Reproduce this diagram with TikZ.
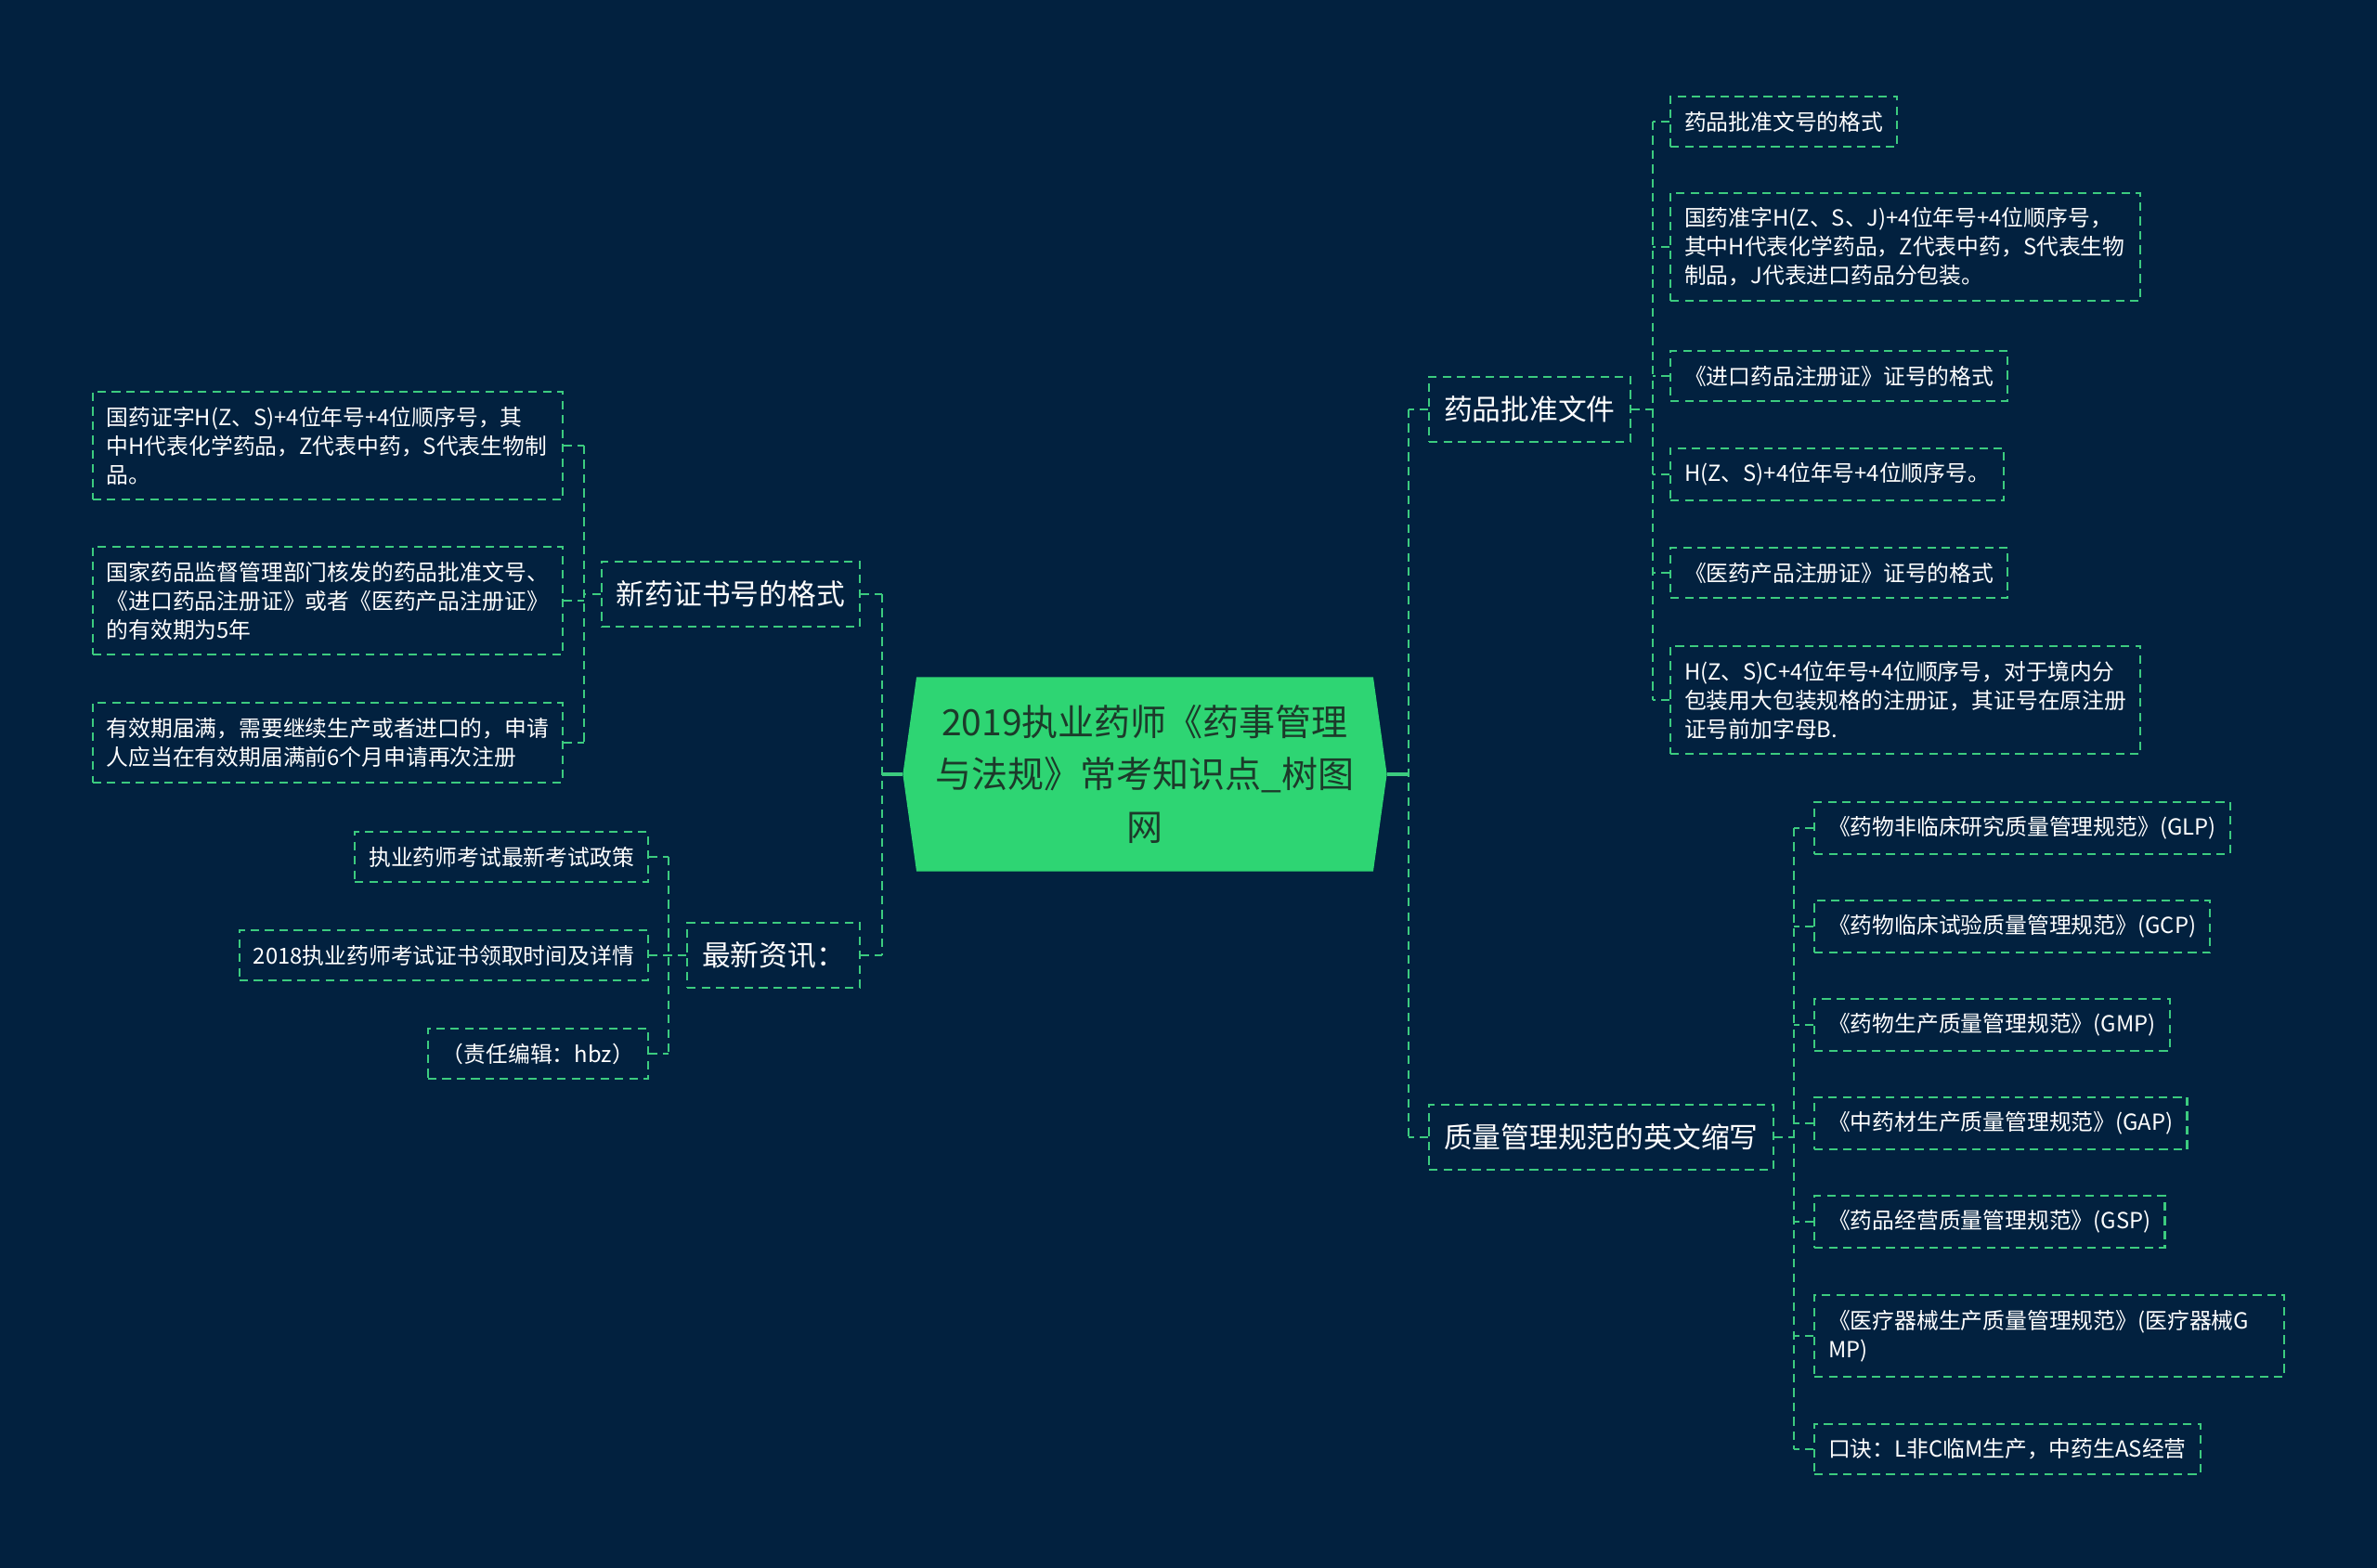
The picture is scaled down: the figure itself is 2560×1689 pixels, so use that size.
\documentclass[tikz,border=0pt]{standalone}
\usepackage{fontspec}
\setmainfont{Noto Sans CJK SC}
\usetikzlibrary{shapes.symbols,positioning}
\definecolor{bgnavy}{HTML}{02213F}
\definecolor{linkgreen}{HTML}{3CCB7F}
\definecolor{titlegreen}{HTML}{2ED573}
\definecolor{titleink}{HTML}{1C3A2A}

\begin{document}
\begin{tikzpicture}[x=0.01cm,y=-0.01cm,
      title/.style={shape=signal,signal to=east and west,signal pointer angle=164,
                    fill=titlegreen,text=titleink,align=center,inner sep=0pt,
                    minimum width=5.21cm,minimum height=2.09cm,
                    font=\fontsize{11.1}{16.2}\selectfont},
      topic/.style={draw=linkgreen,line width=0.6pt,dash pattern=on 2.6pt off 1.8pt,
                    text=white,inner xsep=0.16cm,minimum height=0.70cm,
                    font=\fontsize{8.75}{11}\selectfont},
      leaf/.style={draw=linkgreen,line width=0.6pt,dash pattern=on 2.6pt off 1.8pt,
                   text=white,align=left,inner xsep=0.15cm,inner ysep=0.16cm,
                   font=\fontsize{6.77}{8.8}\selectfont},
      wideleaf/.style={leaf,text width=4.76cm},
      link/.style={linkgreen,line width=0.6pt,dash pattern=on 2.6pt off 1.8pt}]
    \fill[bgnavy] (0,0) rectangle (2560,1689);
    \node[title] (root) at (1233,834) {2019执业药师《药事管理\\与法规》常考知识点\_树图\\网};
    % first level
    \node[topic,anchor=west] (pzwj) at (1538,441) {药品批准文件};
    \node[topic,anchor=west] (gfsx) at (1538,1225) {质量管理规范的英文缩写};
    \node[topic,anchor=east] (xzgs) at (927,640) {新药证书号的格式};
    \node[topic,anchor=east] (zxzx) at (927,1029) {最新资讯：};
    % 药品批准文件
    \node[leaf,anchor=west] (a1) at (1798,131) {药品批准文号的格式};
    \node[wideleaf,anchor=west] (a2) at (1798,266) {国药准字H(Z、S、J)+4位年号+4位顺序号，\\其中H代表化学药品，Z代表中药，S代表生物\\制品，J代表进口药品分包装。};
    \node[leaf,anchor=west] (a3) at (1798,405) {《进口药品注册证》证号的格式};
    \node[leaf,anchor=west] (a4) at (1798,511) {H(Z、S)+4位年号+4位顺序号。};
    \node[leaf,anchor=west] (a5) at (1798,617) {《医药产品注册证》证号的格式};
    \node[wideleaf,anchor=west] (a6) at (1798,754) {H(Z、S)C+4位年号+4位顺序号，对于境内分\\包装用大包装规格的注册证，其证号在原注册\\证号前加字母B.};
    % 质量管理规范的英文缩写
    \node[leaf,anchor=west] (b1) at (1953,892) {《药物非临床研究质量管理规范》(GLP)};
    \node[leaf,anchor=west] (b2) at (1953,998) {《药物临床试验质量管理规范》(GCP)};
    \node[leaf,anchor=west] (b3) at (1953,1104) {《药物生产质量管理规范》(GMP)};
    \node[leaf,anchor=west] (b4) at (1953,1210) {《中药材生产质量管理规范》(GAP)};
    \node[leaf,anchor=west] (b5) at (1953,1316) {《药品经营质量管理规范》(GSP)};
    \node[wideleaf,anchor=west] (b6) at (1953,1439) {《医疗器械生产质量管理规范》(医疗器械G\\MP)};
    \node[leaf,anchor=west] (b7) at (1953,1561) {口诀：L非C临M生产，中药生AS经营};
    % 新药证书号的格式
    \node[wideleaf,anchor=east] (c1) at (607,480) {国药证字H(Z、S)+4位年号+4位顺序号，其\\中H代表化学药品，Z代表中药，S代表生物制\\品。};
    \node[wideleaf,anchor=east] (c2) at (607,647) {国家药品监督管理部门核发的药品批准文号、\\《进口药品注册证》或者《医药产品注册证》\\的有效期为5年};
    \node[wideleaf,anchor=east] (c3) at (607,800) {有效期届满，需要继续生产或者进口的，申请\\人应当在有效期届满前6个月申请再次注册};
    % 最新资讯
    \node[leaf,anchor=east] (d1) at (699,923) {执业药师考试最新考试政策};
    \node[leaf,anchor=east] (d2) at (699,1029) {2018执业药师考试证书领取时间及详情};
    \node[leaf,anchor=east] (d3) at (699,1135) {（责任编辑：hbz）};
    % trunks
    \coordinate (rtrunk) at (1517,834);
    \coordinate (ltrunk) at (950,834);
    \coordinate (atrunk) at (1780,441);
    \coordinate (btrunk) at (1932,1225);
    \coordinate (ctrunk) at (629,640);
    \coordinate (dtrunk) at (720,1029);
    \draw[linkgreen,line width=1pt] (root.east) -- (rtrunk);
    \draw[linkgreen,line width=1pt] (root.west) -- (ltrunk);
    \draw[link] (rtrunk |- pzwj) -- (rtrunk |- gfsx);
    \draw[link] (ltrunk |- xzgs) -- (ltrunk |- zxzx);
    \foreach \n in {pzwj,gfsx} \draw[link] (\n.west) -- (\n.west -| rtrunk);
    \foreach \n in {xzgs,zxzx} \draw[link] (\n.east) -- (\n.east -| ltrunk);
    \draw[link] (pzwj) -- (atrunk);
    \draw[link] (gfsx) -- (btrunk);
    \draw[link] (xzgs) -- (ctrunk);
    \draw[link] (zxzx) -- (dtrunk);
    \draw[link] (atrunk |- a1) -- (atrunk |- a6);
    \draw[link] (btrunk |- b1) -- (btrunk |- b7);
    \draw[link] (ctrunk |- c1) -- (ctrunk |- c3);
    \draw[link] (dtrunk |- d1) -- (dtrunk |- d3);
    \foreach \n in {a1,a2,a3,a4,a5,a6} \draw[link] (\n.west) -- (\n.west -| atrunk);
    \foreach \n in {b1,b2,b3,b4,b5,b6,b7} \draw[link] (\n.west) -- (\n.west -| btrunk);
    \foreach \n in {c1,c2,c3} \draw[link] (\n.east) -- (\n.east -| ctrunk);
    \foreach \n in {d1,d2,d3} \draw[link] (\n.east) -- (\n.east -| dtrunk);
  \end{tikzpicture}
\end{document}
